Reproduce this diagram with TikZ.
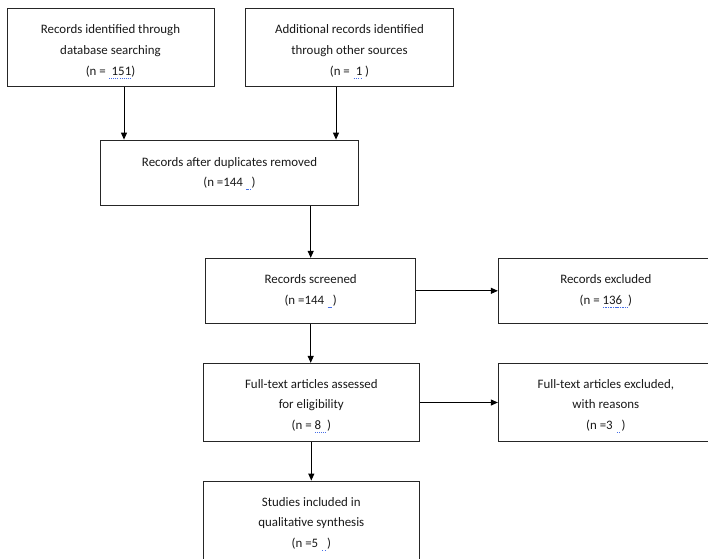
\documentclass[tikz,border=0pt]{standalone}
\usepackage{fontspec}
\setmainfont{Carlito}
\usetikzlibrary{arrows.meta}
\definecolor{spell}{RGB}{70,110,230}
\newcommand\spldot[1]{\setbox0\hbox{#1}\rlap{\raisebox{-3pt}{\color{spell}\hbox to\wd0{\xleaders\hbox to 2pt{\hss\rule{1pt}{0.6pt}\hss}\hfill}}}\box0}
\newcommand\splwav[1]{\setbox0\hbox{#1}\rlap{\raisebox{-3pt}{\color{spell}\hbox to\wd0{\xleaders\hbox to 1.6pt{\hss\rule{1.1pt}{0.8pt}\hss}\hfill}}}\box0}
\begin{document}
\begin{tikzpicture}[x=1pt,y=-1pt,
  box/.style={draw=black!85,line width=0.9pt,rectangle,inner sep=0pt},
  txt/.style={align=center,inner sep=0pt,font=\fontsize{12.9}{20.7}\selectfont,text=black!90},
  arr/.style={draw=black,line width=1pt,-{Triangle[length=7pt,width=6pt]}}]
\useasboundingbox (0,0) rectangle (708,558);
\clip (0,0) rectangle (708,558);
\fill[white] (0,0) rectangle (708,558);
\node[box,minimum width=207pt,minimum height=78.5pt] (b1) at (110.5,47.5) {};
\node[box,minimum width=207.6pt,minimum height=78.5pt] (b2) at (349.5,47.5) {};
\node[box,minimum width=257.6pt,minimum height=65.7pt] (b3) at (229.5,172.9) {};
\node[box,minimum width=210pt,minimum height=65pt] (b4) at (310.7,290.8) {};
\node[box,minimum width=215pt,minimum height=65pt] (b5) at (605.8,290.8) {};
\node[box,minimum width=216pt,minimum height=78.4pt] (b6) at (311.3,402.5) {};
\node[box,minimum width=215pt,minimum height=78.4pt] (b7) at (605.8,402.5) {};
\node[box,minimum width=216pt,minimum height=82pt] (b8) at (311.3,522) {};
\node[txt] (t1) at ([yshift=-4pt]b1.center)
  {Records identified through\\database searching\\(n = \spldot{\ 151})};
\node[txt] (t2) at ([yshift=-4pt]b2.center)
  {Additional records identified\\through other sources\\(n = \spldot{\ 1}\ )};
\node[txt] (t3) at ([yshift=-0.5pt]b3.center)
  {Records after duplicates removed\\(n =144 \splwav{\ \ })};
\node[txt] (t4) at ([yshift=-0.5pt]b4.center)
  {Records screened\\(n =144 \splwav{\ \ })};
\node[txt] (t5) at ([yshift=-0.5pt]b5.center)
  {Records excluded\\(n = \splwav{136\ \ })};
\node[txt] (t6) at ([yshift=-3.5pt]b6.center)
  {Full-text articles assessed\\for eligibility\\(n = \spldot{8\ \ })};
\node[txt] (t7) at ([yshift=-3.5pt]b7.center)
  {Full-text articles excluded,\\with reasons\\(n =3 \spldot{\ \ })};
\node[txt] (t8) at ([yshift=-2pt]b8.center)
  {Studies included in\\qualitative synthesis\\(n =5 \spldot{\ \ })};
\draw[arr] ([xshift=13.5pt]b1.south) -- ([xshift=13.5pt]b1.south |- b3.north);
\draw[arr] ([xshift=-13.5pt]b2.south) -- ([xshift=-13.5pt]b2.south |- b3.north);
\draw[arr] (b4.north |- b3.south) -- (b4.north);
\draw[arr] (b4.east) -- (b4.east -| b5.west);
\draw[arr] (b4.south) -- (b4.south |- b6.north);
\draw[arr] (b6.east) -- (b6.east -| b7.west);
\draw[arr] (b6.south) -- (b6.south |- b8.north);
\end{tikzpicture}
\end{document}
